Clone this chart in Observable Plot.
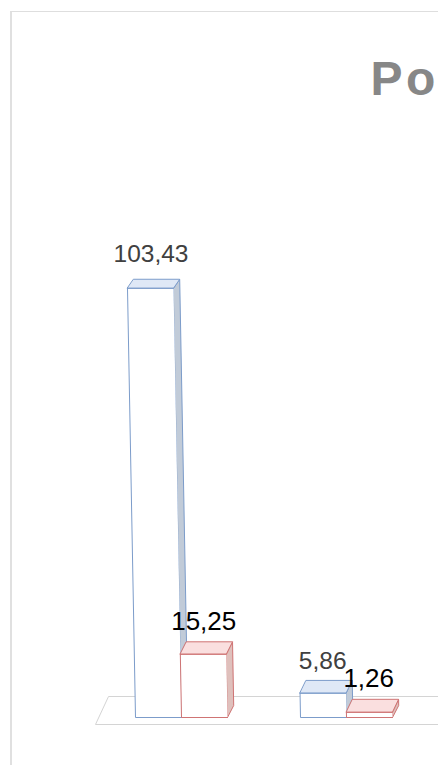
<!DOCTYPE html>
<html>
<head>
<meta charset="utf-8">
<script src="https://cdn.jsdelivr.net/npm/d3@7"></script>
<script src="https://cdn.jsdelivr.net/npm/@observablehq/plot@0.6"></script>
<style>
html,body{margin:0;padding:0;background:#fff;overflow:hidden;width:438px;height:765px}
#panel{position:absolute;left:10px;top:11px;width:440px;height:770px;border-left:2px solid #e0e0e0;border-top:1px solid #dedede}
#chart{position:absolute;left:0;top:0}
svg{display:block}
</style>
</head>
<body>
<div id="panel"></div>
<div id="chart"></div>
<script>
const groups = [0, 3.587];
const blueValues = [103.43, 5.86];
const redValues = [15.25, 1.26];
const labelText = v => v.toFixed(2).replace(".", ",");
const titleText = "Po";

const W = 438, H = 765, slotPx = 46, unitPx = 4.15, baseX = 135, baseY = 717;
const xDomain = [-baseX / slotPx, (W - baseX) / slotPx];
const yDomain = [-(H - baseY) / unitPx, baseY / unitPx];
const sx = px => px / slotPx;   // pixel lengths to slot units
const sy = px => px / unitPx;   // pixel lengths to value units
const lean = v => sx(8) * v / 103.43;         // perspective lean of the tall bars
const depthY = v => sy(13 - 4 * v / 103.43);
const depthX = sx(6.2);

const series = [
  {values: blueValues, offset: 0, top: "#dfe8f6", side: "#c1cbd8", edge: "#7c9cca", label: "#404040", size: 24.5},
  {values: redValues, offset: 1, top: "#fadfdf", side: "#dfc0bc", edge: "#cf7474", label: "#000000", size: 26}
];

const faces = [];
const labels = [];
let id = 0;
series.forEach(s => s.values.forEach((v, i) => {
  const x0 = groups[i] + s.offset, x1 = x0 + 1, l = lean(v), d = depthY(v);
  const poly = (fill, stroke, pts) => {
    const z = id++;
    pts.forEach(p => faces.push({x: p[0], y: p[1], z, fill, stroke}));
  };
  poly(s.side, s.edge, [[x1, 0], [x1 + depthX, sy(12)], [x1 + depthX - l, v + d], [x1 - l, v]]);
  poly("#ffffff", "none", [[x0, 0], [x1, 0], [x1 - l, v], [x0 - l, v]]);
  poly(s.top, s.edge, [[x0 - l, v], [x1 - l, v], [x1 - l + depthX, v + d], [x0 - l + depthX, v + d]]);
  labels.push({x: x0 + 0.5 + (v > 50 ? -sx(7.5) : -sx(0.8)), y: v + d, text: labelText(v), fill: s.label, size: s.size,
               dy: v > 50 ? -17 : (s.offset ? -12 : -11)});
}));

const frontEdges = [];
series.forEach(s => s.values.forEach((v, i) => {
  const x0 = groups[i] + s.offset, x1 = x0 + 1, l = lean(v), z = id++;
  [[x0 - l, v], [x0, 0], [x1, 0]].forEach(p => frontEdges.push({x: p[0], y: p[1], z, stroke: s.edge}));
  const zt = id++;
  [[x0 - l, v], [x1 - l, v]].forEach(p => frontEdges.push({x: p[0], y: p[1], z: zt, stroke: s.edge}));
}));

const floor = [
  {x: xDomain[1] + 1, y: sy(21), z: "f"}, {x: sx(108 - baseX), y: sy(21), z: "f"},
  {x: sx(95 - baseX), y: sy(-7), z: "f"}, {x: xDomain[1] + 1, y: sy(-7), z: "f"}
];

const chart = Plot.plot({
  width: W, height: H,
  marginTop: 0, marginRight: 0, marginBottom: 0, marginLeft: 0,
  style: {background: "transparent"},
  x: {domain: xDomain, range: [0, W], axis: null},
  y: {domain: yDomain, range: [H, 0], axis: null},
  marks: [
    Plot.line(floor, {x: "x", y: "y", z: "z", stroke: "#d4d4d4", strokeWidth: 1, curve: "linear", clip: true}),
    Plot.line(faces, {x: "x", y: "y", z: "z", fill: d => d.fill, stroke: d => d.stroke, strokeWidth: 1, curve: "linear-closed"}),
    Plot.line(frontEdges, {x: "x", y: "y", z: "z", stroke: d => d.stroke, strokeWidth: 1, curve: "linear"}),
    ...labels.map(d => Plot.text([d], {
      x: "x", y: "y", text: "text", fill: d.fill, fontSize: d.size, dy: d.dy,
      lineAnchor: "bottom", textAnchor: "middle", fontFamily: "Liberation Sans"
    })),
    Plot.text([titleText], {
      frameAnchor: "top-left", dx: 370, dy: 60, text: d => d, fill: "#878787", fontSize: 48,
      fontWeight: "bold", textAnchor: "start", lineAnchor: "top", fontFamily: "Liberation Sans",
      render(index, scales, values, dims, ctx, next) {
        const g = next(index, scales, values, dims, ctx);
        g.setAttribute("letter-spacing", "3.5");
        return g;
      }
    })
  ]
});
document.getElementById("chart").appendChild(chart);
</script>
</body>
</html>
